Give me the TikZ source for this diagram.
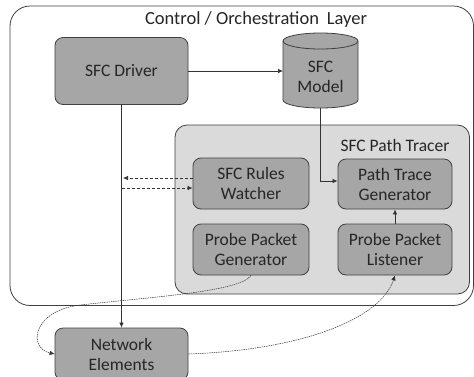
\documentclass[tikz,border=0pt]{standalone}
\usepackage{fontspec}
\setmainfont{Carlito}
\usetikzlibrary{arrows.meta,calc}
\definecolor{boxgray}{HTML}{A6A6A6}
\definecolor{tracergray}{HTML}{DADADA}
\definecolor{edgegray}{HTML}{404040}
\begin{document}
\begin{tikzpicture}[x=1pt,y=-1pt,
  box/.style={draw=edgegray, line width=0.8pt, fill=boxgray, rounded corners=8pt,
    align=center, inner sep=0pt, font=\fontsize{17.5}{20}\selectfont, text=black!85},
  conn/.style={draw=black!80, line width=0.7pt, -{Latex[length=5pt,width=4.5pt]}},
  dconn/.style={conn, dashed, dash pattern=on 3pt off 2pt},
  fconn/.style={conn, line width=0.5pt, dash pattern=on 1.5pt off 0.8pt},
  lbl/.style={font=\fontsize{17.5}{20}\selectfont, text=black!85, inner sep=0pt}]
\useasboundingbox (0,0) rectangle (474,376);
\fill[white] (0,0) rectangle (474,376);
% outer layer
\draw[edgegray, line width=0.8pt, rounded corners=20pt] (10,6) rectangle (473.5,305.5);
\node[lbl, font=\fontsize{18.5}{20}\selectfont] (title) at (256,20) {Control / Orchestration\hspace{0.2em} Layer};
% path tracer
\draw[edgegray, line width=0.8pt, fill=tracergray, rounded corners=12pt] (175,125) rectangle (469.5,294);
\node[lbl] (tracer) at (395,145) {SFC Path Tracer};
% nodes
\node[box, minimum width=133pt, minimum height=67pt] (driver) at (121.5,71) {SFC Driver};
\node[box, minimum width=116pt, minimum height=51pt] (watcher) at (251,183.5) {SFC Rules\\Watcher};
\node[box, minimum width=114pt, minimum height=50pt] (ptg) at (395,184) {Path Trace\\Generator};
\node[box, minimum width=116pt, minimum height=51pt] (ppg) at (251,249.5) {Probe Packet\\Generator};
\node[box, minimum width=114pt, minimum height=51pt] (ppl) at (395,249.5) {Probe Packet\\Listener};
\node[box, minimum width=133pt, minimum height=52pt] (ne) at (121.5,354) {Network\\Elements};
% cylinder
\fill[boxgray] (283,41) -- (283,100) arc[start angle=180, end angle=360, x radius=37.5pt, y radius=8pt] -- (358,41) -- cycle;
\draw[edgegray, line width=0.8pt] (283,41) -- (283,100) arc[start angle=180, end angle=360, x radius=37.5pt, y radius=8pt] -- (358,41);
\draw[edgegray, line width=0.8pt, fill=boxgray] (320.5,41) ellipse[x radius=37.5pt, y radius=8pt];
\node[lbl, align=center] (model) at (320.5,77) {SFC\\Model};
\coordinate (modelbot) at (320.5,108);
% connectors
\draw[conn] (driver.east) -- (283,71);
\draw[conn] (driver.south) -- (ne.north);
\coordinate (wl1) at ($(watcher.west)+(0,-5.5)$);
\coordinate (wl2) at ($(watcher.west)+(0,4.5)$);
\coordinate (dl1) at (123,178);
\coordinate (dl2) at (122,188);
\draw[dconn] (wl1) -- (dl1);
\draw[dconn] (dl2) -- (wl2);
\coordinate (ptgin) at ($(ptg.west)+(0,-3)$);
\draw[conn] (modelbot) |- (ptgin);
\draw[conn] (ppl.north) -- (ptg.south);
\draw[fconn] (ppg.south) .. controls (240,292) and (150,297) .. (80,305) .. controls (32,311) and (28,348) .. (ne.west);
\draw[fconn] (ne.east) .. controls (300,350) and (380,320) .. (ppl.south);
\end{tikzpicture}
\end{document}
